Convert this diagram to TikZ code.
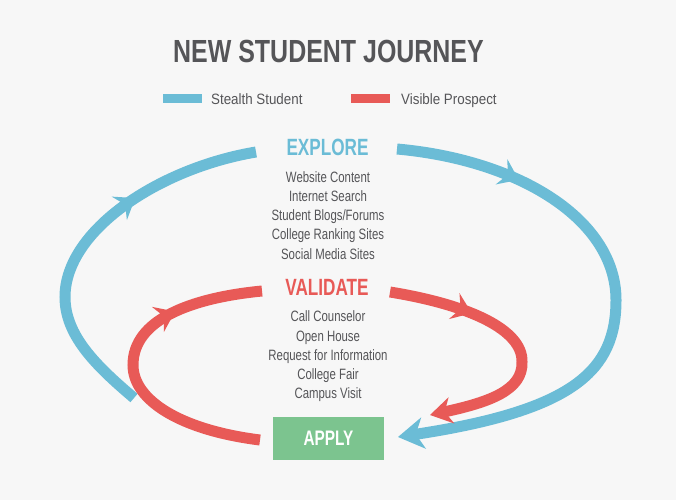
\documentclass[tikz,border=0pt]{standalone}
\usepackage{fontspec}
\setmainfont{Liberation Sans}
\newfontfamily\titlef{Liberation Sans}[FakeStretch=0.78]
\newfontfamily\headf{Liberation Sans}[FakeStretch=0.73]
\newfontfamily\listf{Liberation Sans}[FakeStretch=0.76]
\newfontfamily\legf{Liberation Sans}[FakeStretch=0.89]
\usetikzlibrary{arrows.meta,decorations.markings}
\definecolor{bg}{HTML}{F7F7F7}
\definecolor{cblue}{HTML}{6BBCD6}
\definecolor{cred}{HTML}{E85A57}
\definecolor{cgreen}{HTML}{7CC48F}
\definecolor{txtgray}{HTML}{555558}
\tikzset{
  txt/.style={anchor=base, inner sep=0pt, text=txtgray},
  listtxt/.style={txt, font=\listf\fontsize{15}{15}\selectfont},
  headtxt/.style={anchor=base, inner sep=0pt, font=\headf\bfseries\fontsize{23.5}{23.5}\selectfont},
  arc/.style={line width=11pt, line cap=butt, color=#1},
  midarrow/.style={postaction={decorate}, decoration={markings,
      mark=at position #1 with {\arrow{Stealth[length=19pt,width=28pt,inset=7pt,line width=0pt]}}}},
  bigtip/.style={-{Stealth[length=26pt,width=32pt,inset=8pt,line width=0pt]}},
  redtip/.style={-{Stealth[length=22pt,width=27pt,inset=7pt,line width=0pt]}},
  legbar/.style={fill=#1, draw=none}
}
\begin{document}
\begin{tikzpicture}[x=1pt,y=-1pt]
\useasboundingbox[fill=bg] (0,0) rectangle (676,500);

% title
\node[txt, font=\titlef\bfseries\fontsize{32}{32}\selectfont] (title) at (328.5,63) {NEW STUDENT JOURNEY};

% legend
\fill[legbar=cblue] (163,94) rectangle (202,103);
\node[txt, anchor=base west, font=\legf\fontsize{15}{15}\selectfont] (leg1) at (211,104) {Stealth Student};
\fill[legbar=cred] (351,94) rectangle (390,103);
\node[txt, anchor=base west, font=\legf\fontsize{15}{15}\selectfont] (leg2) at (401,104) {Visible Prospect};

% explore
\node[headtxt, text=cblue] (explore) at (327.5,155) {EXPLORE};
\node[listtxt] (e1) at (328,182) {Website Content};
\node[listtxt] (e2) at (328,201.3) {Internet Search};
\node[listtxt] (e3) at (328,220.6) {Student Blogs/Forums};
\node[listtxt] (e4) at (328,239.9) {College Ranking Sites};
\node[listtxt] (e5) at (328,259) {Social Media Sites};

% validate
\node[headtxt, text=cred] (validate) at (327,295) {VALIDATE};
\node[listtxt] (v1) at (328,321.7) {Call Counselor};
\node[listtxt] (v2) at (328,341) {Open House};
\node[listtxt] (v3) at (328,360.2) {Request for Information};
\node[listtxt] (v4) at (328,379.5) {College Fair};
\node[listtxt] (v5) at (328,398.7) {Campus Visit};

% apply
\node[fill=cgreen, minimum width=111pt, minimum height=43pt, inner sep=0pt, text=white,
      font=\headf\bfseries\fontsize{21}{21}\selectfont] (apply) at (328.5,438.5) {APPLY};

% connector end points
\coordinate (bls) at (134,398);
\coordinate (ble) at (256,152);
\coordinate (brs) at (397,149);
\coordinate (bre) at (398,437);
\coordinate (rls) at (260,440);
\coordinate (rle) at (262,291);
\coordinate (rrs) at (390,292);
\coordinate (rre) at (430,415);

% blue arcs
\draw[arc=cblue, midarrow=0.66] (bls) .. controls (95,365) and (65,335) .. (65,297)
  .. controls (65,230) and (160,168) .. (ble);
\draw[arc=cblue, bigtip, midarrow=0.22] (brs) .. controls (520,160) and (616,220) .. (616,300)
  .. controls (616,370) and (575,410) .. (bre);

% red arcs
\draw[arc=cred, midarrow=0.72] (rls) .. controls (180,430) and (133,400) .. (133,365)
  .. controls (133,320) and (190,298) .. (rle);
\draw[arc=cred, redtip, midarrow=0.31] (rrs) .. controls (470,305) and (523,330) .. (522,362)
  .. controls (523,390) and (490,402) .. (rre);
\end{tikzpicture}
\end{document}
